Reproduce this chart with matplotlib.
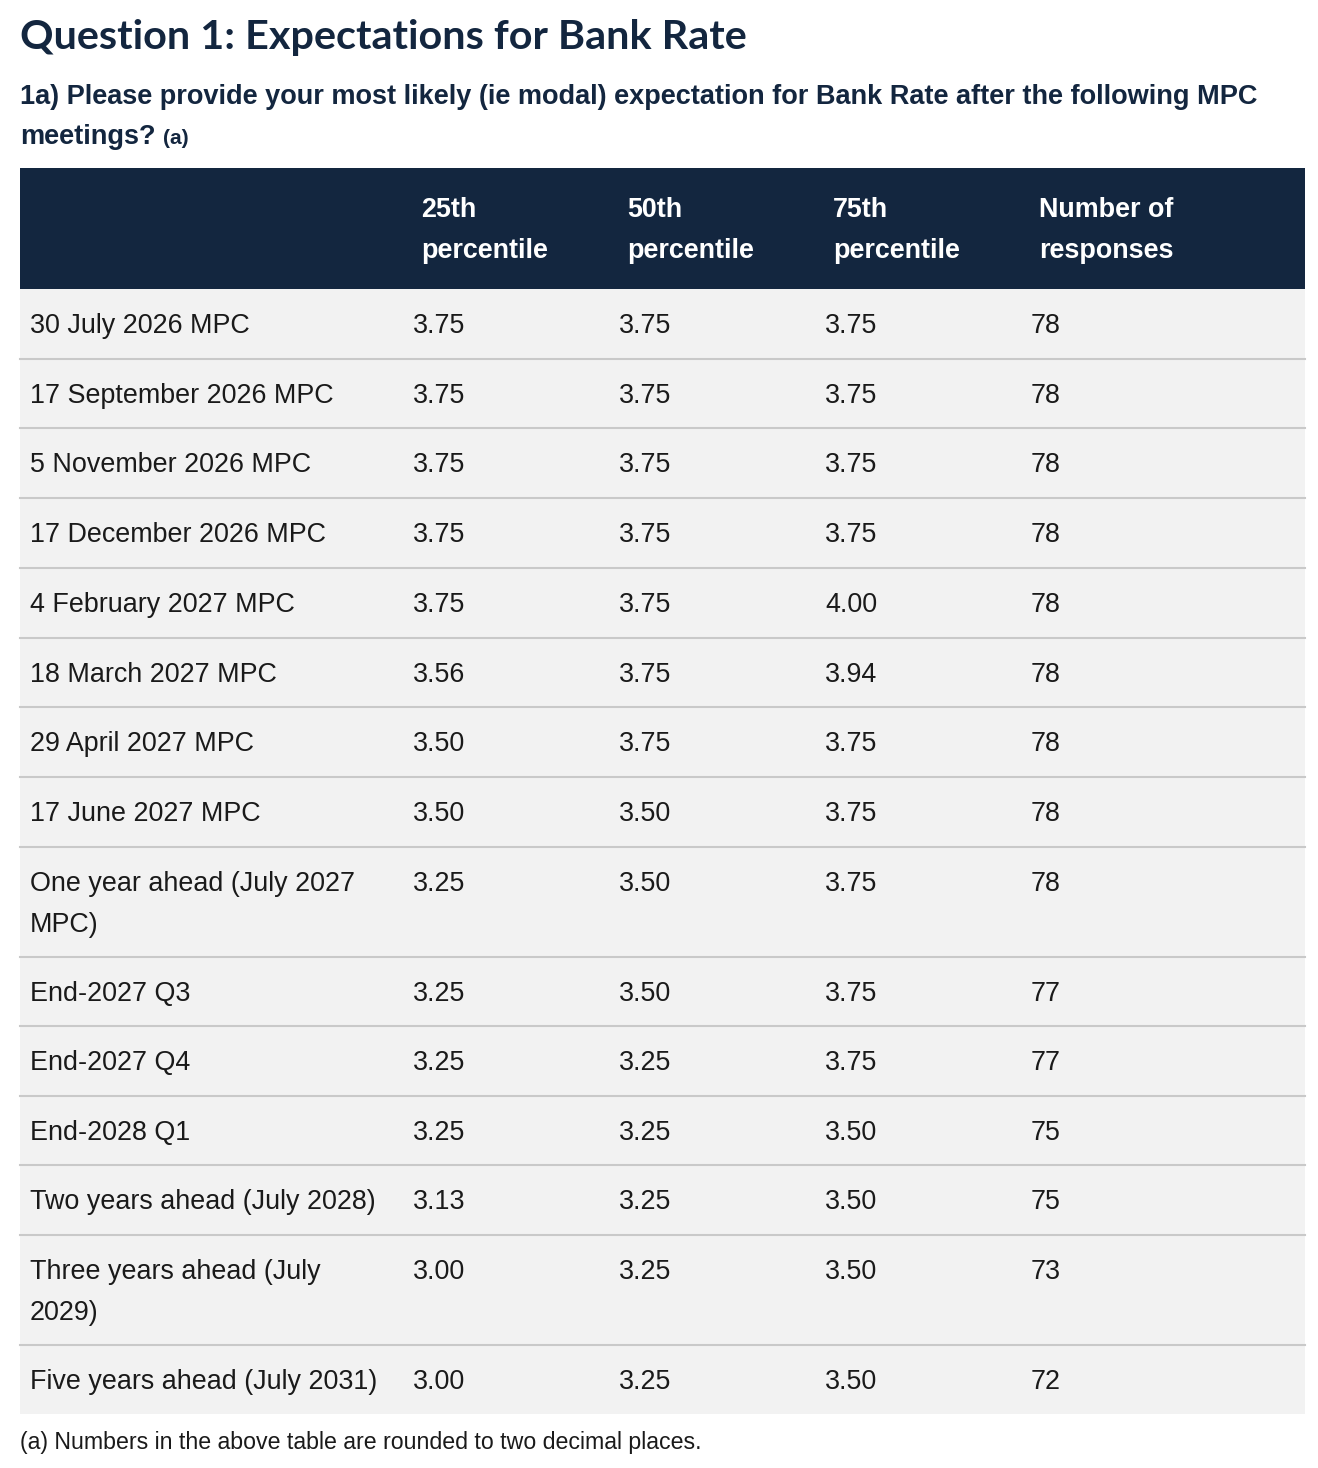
import matplotlib
matplotlib.use("Agg")
import matplotlib.pyplot as plt
from matplotlib.patches import Rectangle

title = "Question 1: Expectations for Bank Rate"
subtitle = ["1a) Please provide your most likely (ie modal) expectation for Bank Rate after the following MPC",
            "meetings?"]
headers = [["25th", "percentile"], ["50th", "percentile"], ["75th", "percentile"], ["Number of", "responses"]]
labels = [["30 July 2026 MPC"], ["17 September 2026 MPC"], ["5 November 2026 MPC"], ["17 December 2026 MPC"],
          ["4 February 2027 MPC"], ["18 March 2027 MPC"], ["29 April 2027 MPC"], ["17 June 2027 MPC"],
          ["One year ahead (July 2027", "MPC)"], ["End-2027 Q3"], ["End-2027 Q4"], ["End-2028 Q1"],
          ["Two years ahead (July 2028)"], ["Three years ahead (July", "2029)"], ["Five years ahead (July 2031)"]]
p25 = ["3.75", "3.75", "3.75", "3.75", "3.75", "3.56", "3.50", "3.50", "3.25", "3.25", "3.25", "3.25", "3.13", "3.00", "3.00"]
p50 = ["3.75", "3.75", "3.75", "3.75", "3.75", "3.75", "3.75", "3.50", "3.50", "3.50", "3.25", "3.25", "3.25", "3.25", "3.25"]
p75 = ["3.75", "3.75", "3.75", "3.75", "4.00", "3.94", "3.75", "3.75", "3.75", "3.75", "3.75", "3.50", "3.50", "3.50", "3.50"]
nresp = ["78", "78", "78", "78", "78", "78", "78", "78", "78", "77", "77", "75", "75", "73", "72"]
footnote = "(a) Numbers in the above table are rounded to two decimal places."

W, H = 1318, 1468
fig = plt.figure(figsize=(W/100, H/100), dpi=100)
ax = fig.add_axes([0, 0, 1, 1])
ax.set_xlim(0, W); ax.set_ylim(H, 0); ax.axis("off")
navy = "#13263F"
txt = "#1a1a1a"
fs = 19.4
font = ["Liberation Sans", "DejaVu Sans"]

ax.text(20, 37, title, fontsize=29.8, fontweight="bold", color=navy, va="center", family=["Lato", "DejaVu Sans"])
ax.text(20, 97, subtitle[0], fontsize=19.5, fontweight="bold", color=navy, va="center", family=font)
ax.text(20, 137, subtitle[1], fontsize=19.5, fontweight="bold", color=navy, va="center", family=font)
ax.text(163, 139, "(a)", fontsize=15, fontweight="bold", color=navy, va="center", family=font)

ax.add_patch(Rectangle((20, 168), 1285, 121, color=navy, lw=0))
hx = [421, 627, 833, 1039]
for x, h in zip(hx, headers):
    ax.text(x, 210, h[0], fontsize=fs, fontweight="bold", color="white", va="center", family=font)
    ax.text(x, 251, h[1], fontsize=fs, fontweight="bold", color="white", va="center", family=font)

bounds = [289, 359, 428, 498, 568, 638, 707, 777, 847, 957, 1026, 1096, 1165, 1235, 1345, 1414]
vx = [413, 619, 825, 1031]
for i, lab in enumerate(labels):
    top, bot = bounds[i], bounds[i+1]
    ax.add_patch(Rectangle((20, top), 1285, bot-top, color="#F2F2F2", lw=0))
    if i > 0:
        ax.plot([20, 1305], [top, top], color="#C9C9C9", lw=1.5)
    y = top + 37
    for k, l in enumerate(lab):
        ax.text(30, y + 41*k, l, fontsize=fs, color=txt, va="center", family=font)
    for x, v in zip(vx, [p25[i], p50[i], p75[i], nresp[i]]):
        ax.text(x, y, v, fontsize=fs, color=txt, va="center", family=font)

ax.text(20, 1443, footnote, fontsize=16.7, color=txt, va="center", family=font)
fig.savefig("out.png", dpi=100, facecolor="white")
